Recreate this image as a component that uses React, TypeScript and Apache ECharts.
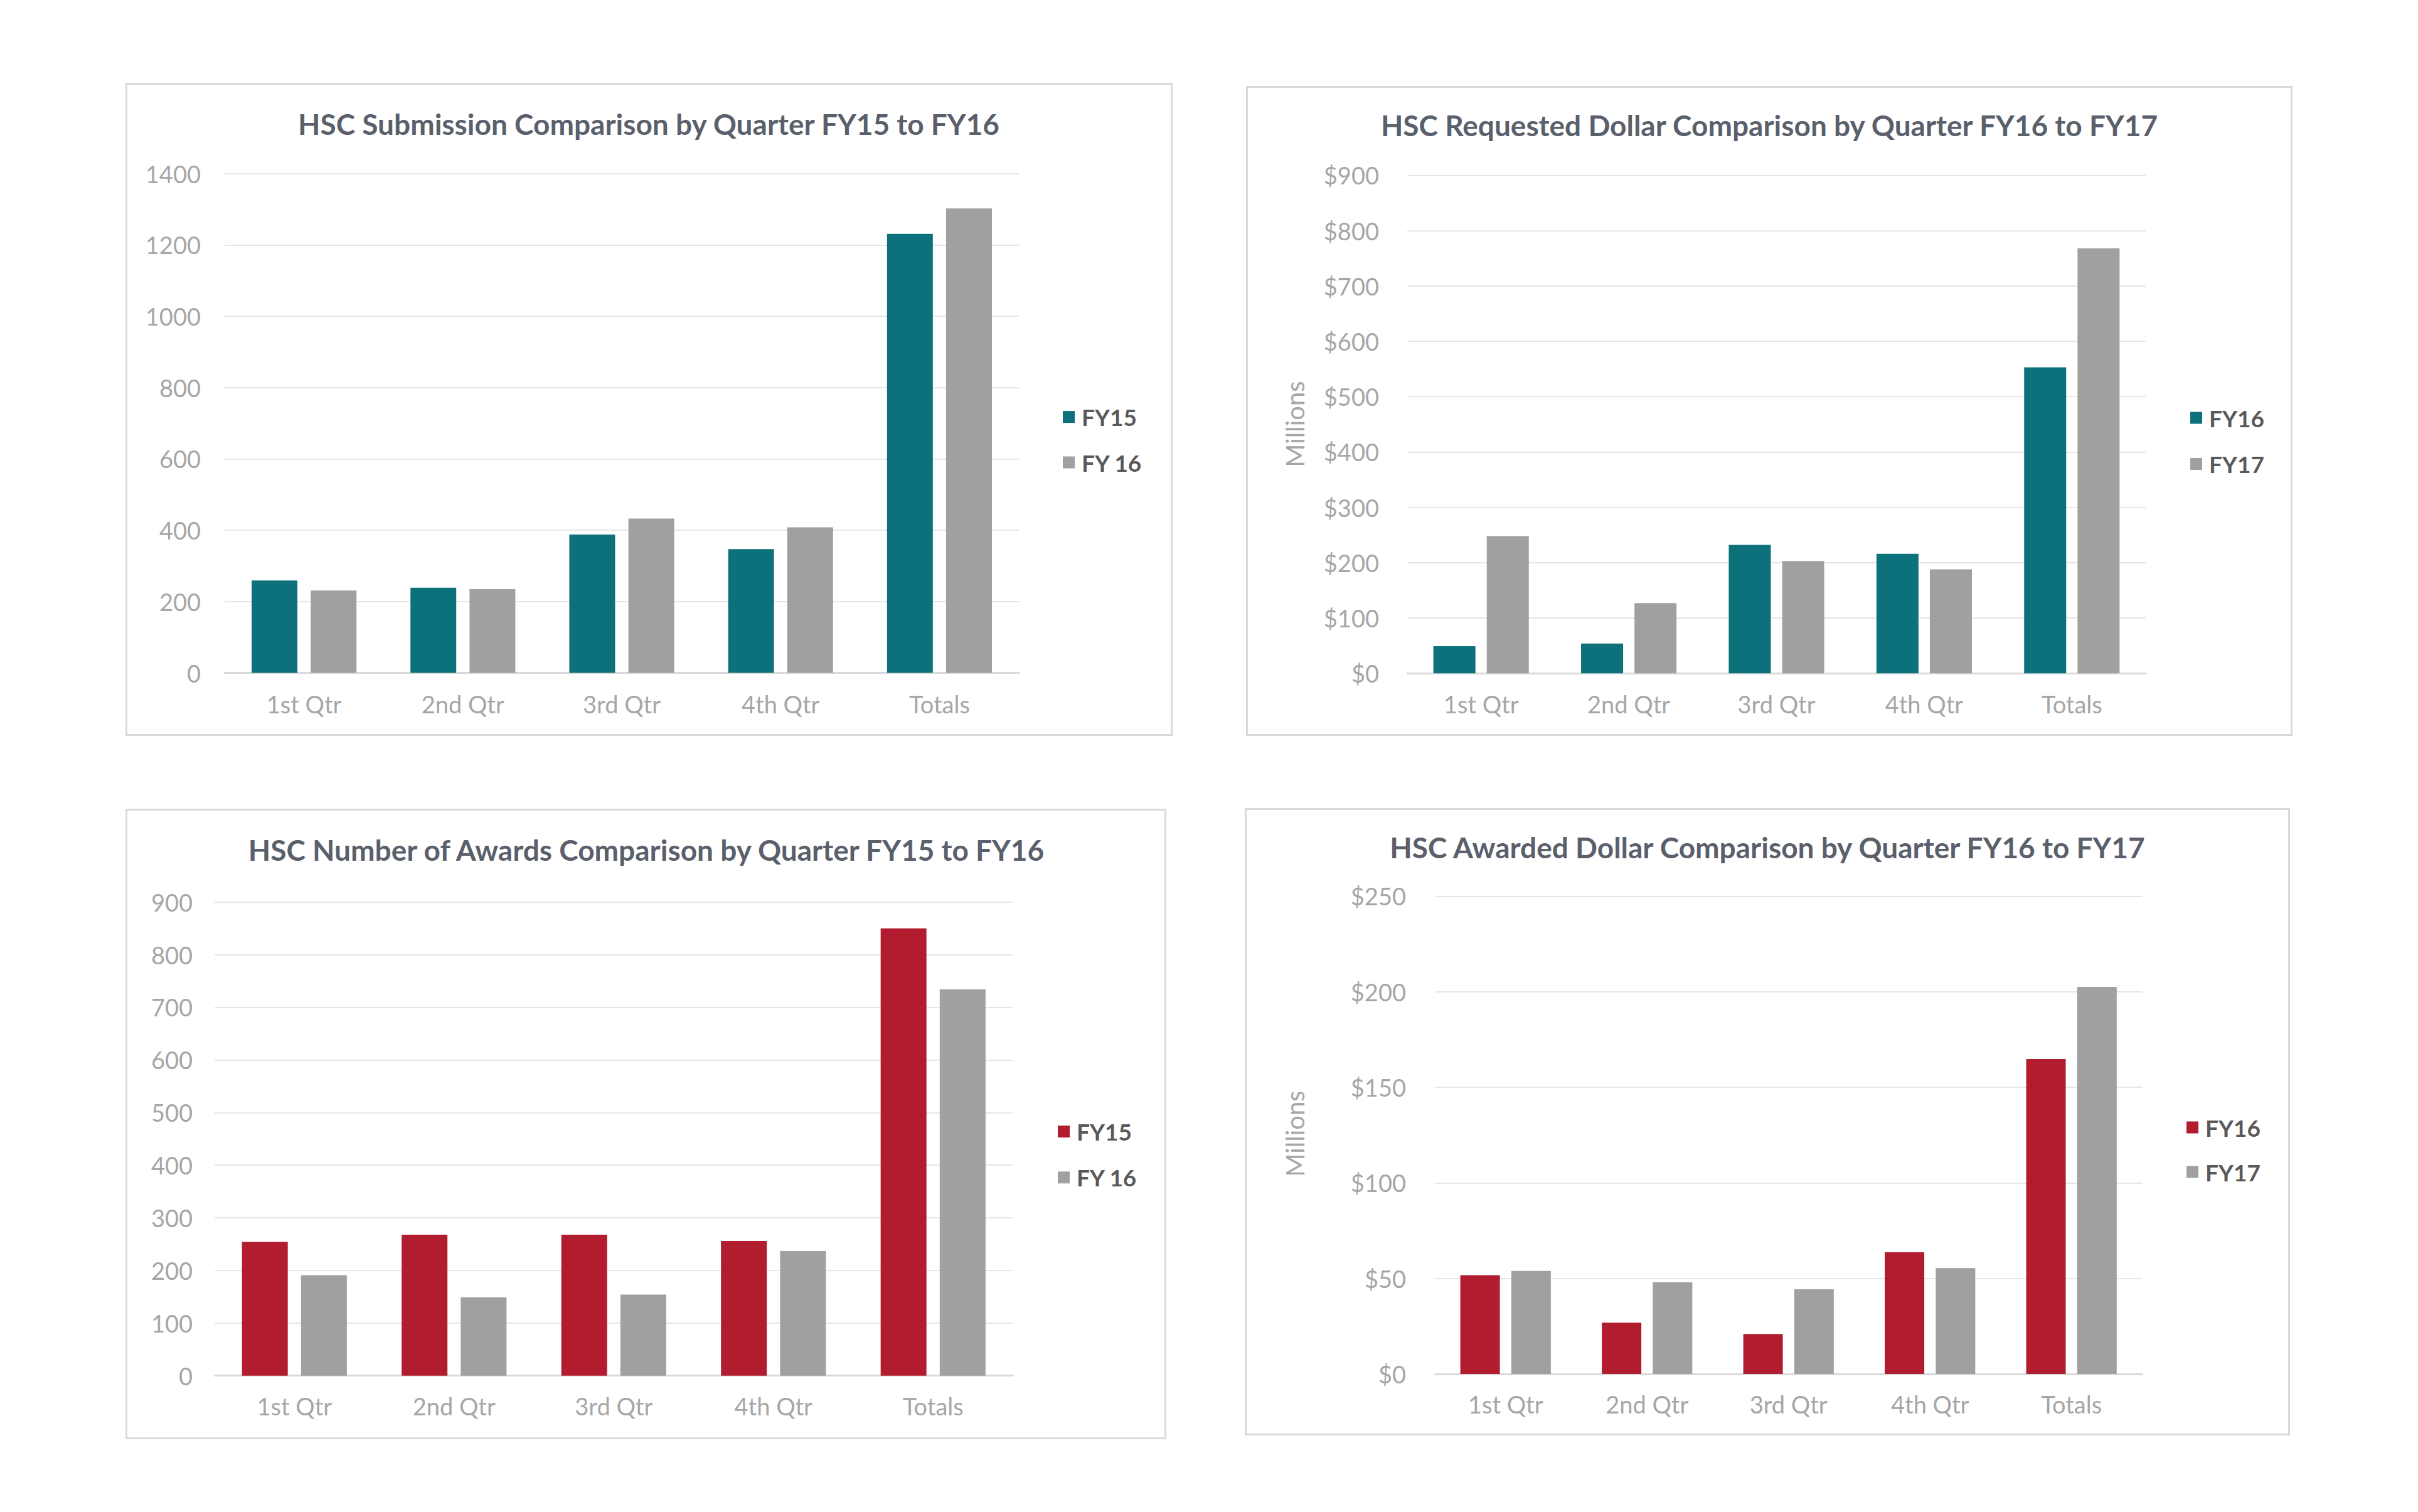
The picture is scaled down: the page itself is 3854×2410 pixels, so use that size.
import React, { useEffect, useRef } from "react";
import * as echarts from "echarts";

// ---------- data ----------
const categories = ["1st Qtr", "2nd Qtr", "3rd Qtr", "4th Qtr", "Totals"];

const submissionsFY15 = [259, 239, 388, 347, 1231];
const submissionsFY16 = [231, 235, 433, 408, 1302];

const requestedFY16 = [49, 54, 232, 216, 553];
const requestedFY17 = [248, 127, 203, 188, 768];

const awardsFY15 = [254, 268, 268, 256, 850];
const awardsFY16 = [191, 149, 154, 237, 734];

const awardedFY16 = [51.7, 26.8, 20.9, 63.7, 164.8];
const awardedFY17 = [53.9, 48.0, 44.3, 55.4, 202.5];

// ---------- styles ----------
const TEAL = "#0d717b";
const GRAY = "#a0a0a0";
const RED = "#b11c2f";
const FONT = "Lato";
const LABEL_COLOR = "#a6a6a6";
const TITLE_COLOR = "#5a606b";
const LEGEND_COLOR = "#595959";

type PanelCfg = {
  box: { x: number; y: number; w: number; h: number };
  title: string;
  titleCx: number;
  titleCy: number;
  grid: { left: number; top: number; width: number; height: number };
  max: number;
  interval: number;
  dollar: boolean;
  yMargin: number;
  xMargin: number;
  barWidth: number;
  barGap: string;
  names: [string, string];
  colors: [string, string];
  data: [number[], number[]];
  legendX: number;
  legendY0: number;
  legendStep: number;
  millions?: { x: number; y: number };
};

const panels: PanelCfg[] = [
  {
    box: { x: 200, y: 132, w: 1669, h: 1041 },
    title: "HSC Submission Comparison by Quarter FY15 to FY16",
    titleCx: 834,
    titleCy: 64,
    grid: { left: 158, top: 144.6, width: 1266, height: 796 },
    max: 1400,
    interval: 200,
    dollar: false,
    yMargin: 38,
    xMargin: 30,
    barWidth: 73,
    barGap: "29%",
    names: ["FY15", "FY 16"],
    colors: [TEAL, GRAY],
    data: [submissionsFY15, submissionsFY16],
    legendX: 1494,
    legendY0: 532.6,
    legendStep: 72.4,
  },
  {
    box: { x: 1986, y: 137, w: 1668, h: 1036 },
    title: "HSC Requested Dollar Comparison by Quarter FY16 to FY17",
    titleCx: 834,
    titleCy: 61,
    grid: { left: 257, top: 142.3, width: 1177, height: 794 },
    max: 900,
    interval: 100,
    dollar: true,
    yMargin: 45,
    xMargin: 30,
    barWidth: 67,
    barGap: "27%",
    names: ["FY16", "FY17"],
    colors: [TEAL, GRAY],
    data: [requestedFY16, requestedFY17],
    legendX: 1505,
    legendY0: 529,
    legendStep: 73.5,
    millions: { x: 78, y: 539 },
  },
  {
    box: { x: 200, y: 1289, w: 1659, h: 1005 },
    title: "HSC Number of Awards Comparison by Quarter FY15 to FY16",
    titleCx: 830,
    titleCy: 64.5,
    grid: { left: 142, top: 148.7, width: 1272.5, height: 755 },
    max: 900,
    interval: 100,
    dollar: false,
    yMargin: 35,
    xMargin: 29,
    barWidth: 73,
    barGap: "29%",
    names: ["FY15", "FY 16"],
    colors: [RED, GRAY],
    data: [awardsFY15, awardsFY16],
    legendX: 1486,
    legendY0: 514.6,
    legendStep: 73.2,
  },
  {
    box: { x: 1984, y: 1288, w: 1666, h: 1000 },
    title: "HSC Awarded Dollar Comparison by Quarter FY16 to FY17",
    titleCx: 833,
    titleCy: 61,
    grid: { left: 303, top: 140.4, width: 1127.4, height: 761.6 },
    max: 250,
    interval: 50,
    dollar: true,
    yMargin: 46,
    xMargin: 29,
    barWidth: 63,
    barGap: "29%",
    names: ["FY16", "FY17"],
    colors: [RED, GRAY],
    data: [awardedFY16, awardedFY17],
    legendX: 1501,
    legendY0: 509,
    legendStep: 71,
    millions: { x: 80, y: 519 },
  },
];

function buildOption(c: PanelCfg): any {
  const legendLine = 40;
  const graphic: any[] = [
    {
      type: "rect",
      silent: true,
      z: -10,
      shape: { x: 1.5, y: 1.5, width: c.box.w - 3, height: c.box.h - 3 },
      style: { fill: "#ffffff", stroke: "#d9d9d9", lineWidth: 3 },
    },
  ];
  if (c.millions) {
    graphic.push({
      type: "text",
      silent: true,
      x: c.millions.x,
      y: c.millions.y,
      rotation: Math.PI / 2,
      style: {
        text: "Millions",
        fontFamily: FONT,
        fontSize: 40,
        fill: LABEL_COLOR,
        textAlign: "center",
        align: "center",
        textVerticalAlign: "middle",
        verticalAlign: "middle",
      },
    });
  }
  return {
    animation: false,
    backgroundColor: "#ffffff",
    graphic,
    title: {
      text: c.title,
      left: c.titleCx,
      top: c.titleCy - 26,
      textAlign: "center",
      padding: 0,
      textStyle: {
        fontFamily: FONT,
        fontWeight: "bold",
        fontSize: 46,
        lineHeight: 54,
        color: TITLE_COLOR,
      },
    },
    legend: {
      orient: "vertical",
      left: c.legendX,
      top: c.legendY0 - legendLine / 2,
      itemWidth: 19,
      itemHeight: 19,
      itemGap: c.legendStep - legendLine,
      padding: 0,
      selectedMode: false,
      icon: "rect",
      textStyle: {
        fontFamily: FONT,
        fontWeight: "bold",
        fontSize: 37,
        lineHeight: legendLine,
        color: LEGEND_COLOR,
        padding: [0, 0, 0, 6],
      },
      data: c.names.map((n, i) => ({ name: n, itemStyle: { color: c.colors[i] } })),
    },
    grid: { ...c.grid, containLabel: false },
    xAxis: {
      type: "category",
      data: categories,
      axisTick: { show: false },
      axisLine: { lineStyle: { color: "#d9d9d9", width: 3 } },
      axisLabel: {
        margin: c.xMargin,
        fontFamily: FONT,
        fontSize: 38,
        color: LABEL_COLOR,
      },
    },
    yAxis: {
      type: "value",
      min: 0,
      max: c.max,
      interval: c.interval,
      axisLine: { show: false },
      axisTick: { show: false },
      splitLine: { lineStyle: { color: "#e6e6e6", width: 2 } },
      axisLabel: {
        margin: c.yMargin,
        fontFamily: FONT,
        fontSize: 38,
        color: LABEL_COLOR,
        formatter: (v: number) => (c.dollar ? "$" + v : String(v)),
      },
    },
    series: c.names.map((n, i) => ({
      type: "bar",
      name: n,
      data: c.data[i],
      barWidth: c.barWidth,
      barGap: c.barGap,
      itemStyle: { color: c.colors[i] },
    })),
  };
}

function Panel({ cfg }: { cfg: PanelCfg }) {
  const ref = useRef<HTMLDivElement>(null);
  useEffect(() => {
    if (!ref.current) return;
    const chart = echarts.init(ref.current, null, { renderer: "svg" });
    chart.setOption(buildOption(cfg));
    return () => chart.dispose();
  }, [cfg]);
  return (
    <div
      ref={ref}
      style={{
        position: "absolute",
        left: cfg.box.x,
        top: cfg.box.y,
        width: cfg.box.w,
        height: cfg.box.h,
      }}
    />
  );
}

export default function App() {
  return (
    <div
      style={{
        position: "absolute",
        left: 0,
        top: 0,
        width: 3854,
        height: 2410,
        background: "#ffffff",
        overflow: "hidden",
      }}
    >
      {panels.map((p, i) => (
        <Panel key={i} cfg={p} />
      ))}
    </div>
  );
}
